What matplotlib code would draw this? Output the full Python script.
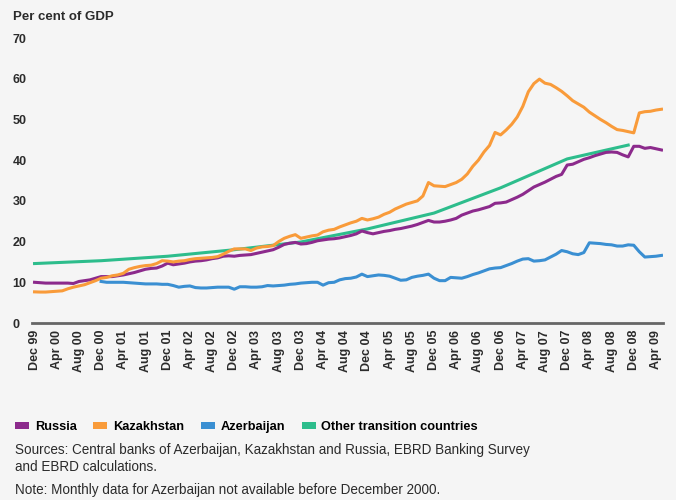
import pandas as pd
import matplotlib
matplotlib.use("Agg")
import matplotlib.pyplot as plt
from matplotlib.patches import Patch

# Domestic credit to the private sector, monthly, Dec 1999 - May 2009
months = pd.date_range("1999-12-01", periods=114, freq="MS")

russia = [
    10.0, 9.9, 9.8, 9.8, 9.8, 9.8, 9.8, 9.7, 10.2, 10.4, 10.6, 11.0,
    11.4, 11.4, 11.4, 11.6, 11.8, 12.1, 12.4, 12.8, 13.2, 13.4, 13.5, 14.0,
    14.7, 14.3, 14.5, 14.7, 15.0, 15.2, 15.3, 15.5, 15.8, 16.0, 16.4, 16.5,
    16.4, 16.6, 16.7, 16.8, 17.1, 17.4, 17.7, 18.0, 18.6, 19.3, 19.6, 19.8,
    19.4, 19.5, 19.8, 20.2, 20.4, 20.6, 20.7, 20.9, 21.2, 21.5, 21.9, 22.6,
    22.2, 21.9, 22.2, 22.5, 22.7, 23.0, 23.2, 23.5, 23.8, 24.2, 24.7, 25.2,
    24.8, 24.8, 25.0, 25.3, 25.7, 26.5, 27.0, 27.5, 27.8, 28.2, 28.6, 29.4,
    29.5, 29.7, 30.3, 30.9, 31.6, 32.5, 33.4, 34.0, 34.6, 35.3, 36.0, 36.5,
    38.8, 39.0, 39.6, 40.2, 40.6, 41.1, 41.5, 41.9, 42.0, 41.9, 41.3, 40.8,
    43.4, 43.4, 42.9, 43.1, 42.8, 42.5,
]

kazakhstan = [
    7.65, 7.6, 7.6, 7.7, 7.8, 7.9, 8.4, 8.8, 9.1, 9.4, 9.9, 10.4,
    11.0, 11.2, 11.6, 11.8, 12.2, 13.2, 13.6, 13.9, 14.1, 14.2, 14.6, 15.3,
    15.2, 15.0, 15.2, 15.3, 15.6, 15.8, 15.9, 16.0, 16.1, 16.3, 16.9, 17.6,
    18.2, 18.2, 18.2, 17.8, 18.4, 18.7, 18.8, 19.0, 20.0, 20.8, 21.3, 21.7,
    20.8, 21.1, 21.4, 21.6, 22.4, 22.8, 23.0, 23.6, 24.1, 24.6, 25.0, 25.7,
    25.3, 25.6, 26.0, 26.7, 27.2, 28.0, 28.6, 29.2, 29.6, 30.0, 31.2, 34.5,
    33.7, 33.6, 33.5, 34.0, 34.5, 35.3, 36.6, 38.5, 40.0, 42.0, 43.6, 46.8,
    46.2, 47.4, 48.8, 50.6, 53.2, 56.8, 58.8, 59.9, 58.9, 58.6, 57.8, 56.9,
    55.8, 54.6, 53.8, 53.0, 51.8, 50.9, 50.0, 49.2, 48.3, 47.5, 47.3, 47.0,
    46.7, 51.6, 51.9, 52.0, 52.3, 52.5,
]

# Azerbaijan starts in Dec 2000 (month 12)
azerbaijan_start = 12
azerbaijan = [
    10.2, 10.0, 10.0, 10.0, 10.0, 9.9, 9.8, 9.7, 9.6, 9.6, 9.6, 9.5,
    9.5, 9.2, 8.8, 9.0, 9.1, 8.7, 8.6, 8.6, 8.7, 8.8, 8.8, 8.8,
    8.3, 8.9, 8.9, 8.8, 8.8, 8.9, 9.2, 9.1, 9.2, 9.3, 9.5, 9.6,
    9.8, 9.9, 10.0, 10.0, 9.3, 9.9, 10.0, 10.6, 10.9, 11.0, 11.3, 12.0,
    11.4, 11.6, 11.8, 11.7, 11.5, 11.0, 10.5, 10.6, 11.2, 11.5, 11.7, 12.0,
    11.0, 10.4, 10.4, 11.2, 11.1, 11.0, 11.4, 11.9, 12.3, 12.8, 13.3, 13.5,
    13.6, 14.1, 14.6, 15.2, 15.7, 15.8, 15.2, 15.3, 15.5, 16.2, 16.9, 17.8,
    17.5, 17.0, 16.8, 17.3, 19.7, 19.6, 19.5, 19.3, 19.2, 18.9, 18.9, 19.2,
    19.1, 17.5, 16.2, 16.3, 16.4, 16.6,
]

# Other transition countries: year-end readings
other_months = [0, 12, 24, 36, 48, 60, 72, 84, 96, 107]
other = [14.6, 15.3, 16.4, 18.0, 19.9, 23.1, 27.0, 33.2, 40.3, 43.7]

series_names = ["Russia", "Kazakhstan", "Azerbaijan", "Other transition countries"]
colors = ["#8c2a8c", "#f99b3a", "#3a8fd2", "#2dbd8c"]

bg = "#f5f5f5"
text_col = "#2b2b2b"
font = "Liberation Sans"

fig = plt.figure(figsize=(6.76, 5.0), dpi=100, facecolor=bg)
ax = fig.add_axes([0.047, 0.354, 0.934, 0.570], facecolor=bg)

x_all = list(range(len(months)))
x_az = list(range(azerbaijan_start, azerbaijan_start + len(azerbaijan)))

ax.plot(x_all, russia, color=colors[0], lw=2.2, solid_joinstyle="round", zorder=3)
ax.plot(x_all, kazakhstan, color=colors[1], lw=2.2, solid_joinstyle="round", zorder=3)
ax.plot(x_az, azerbaijan, color=colors[2], lw=2.2, solid_joinstyle="round", zorder=3)
ax.plot(other_months, other, color=colors[3], lw=2.2, solid_joinstyle="round", zorder=2)

ax.set_xlim(-0.5, 113.3)
ax.set_ylim(0, 70)

tick_pos = x_all[::4]
tick_labels = [m.strftime("%b %y") for m in months[::4]]
ax.set_xticks(tick_pos)
ax.set_xticklabels(tick_labels, rotation=90, fontsize=9, fontweight="bold",
                   family=font, color=text_col, va="top")
ax.set_yticks(range(0, 71, 10))
ax.set_yticklabels([str(v) for v in range(0, 71, 10)], fontsize=9,
                   fontweight="bold", family=font, color=text_col)
for lab in ax.get_yticklabels():
    lab.set_ha("left")
ax.tick_params(axis="y", length=0, pad=13.7)
ax.tick_params(axis="x", length=0, pad=5)

for side in ["top", "right", "left"]:
    ax.spines[side].set_visible(False)
ax.spines["bottom"].set_color("#666666")
ax.spines["bottom"].set_linewidth(2)

fig.text(13 / 676, 1 - 17 / 500, "Per cent of GDP", fontsize=9.5, fontweight="bold",
         family=font, color=text_col, va="center", ha="left")

handles = [Patch(facecolor=c, edgecolor="none") for c in colors]
fig.legend(handles, series_names, loc="center left", bbox_to_anchor=(15 / 676, 1 - 427 / 500),
           ncol=4, frameon=False, borderpad=0, borderaxespad=0, handlelength=1.1,
           handleheight=0.4, handletextpad=0.45, columnspacing=1.3,
           prop={"family": font, "weight": "bold", "size": 9.2})

note_kw = dict(fontsize=9.75, family=font, color=text_col, va="center", ha="left")
fig.text(15 / 676, 1 - 450 / 500,
         "Sources: Central banks of Azerbaijan, Kazakhstan and Russia, EBRD Banking Survey",
         **note_kw)
fig.text(15 / 676, 1 - 467 / 500, "and EBRD calculations.", **note_kw)
fig.text(15 / 676, 1 - 490 / 500,
         "Note: Monthly data for Azerbaijan not available before December 2000.",
         **note_kw)

fig.savefig("out.png", dpi=100, facecolor=bg)
